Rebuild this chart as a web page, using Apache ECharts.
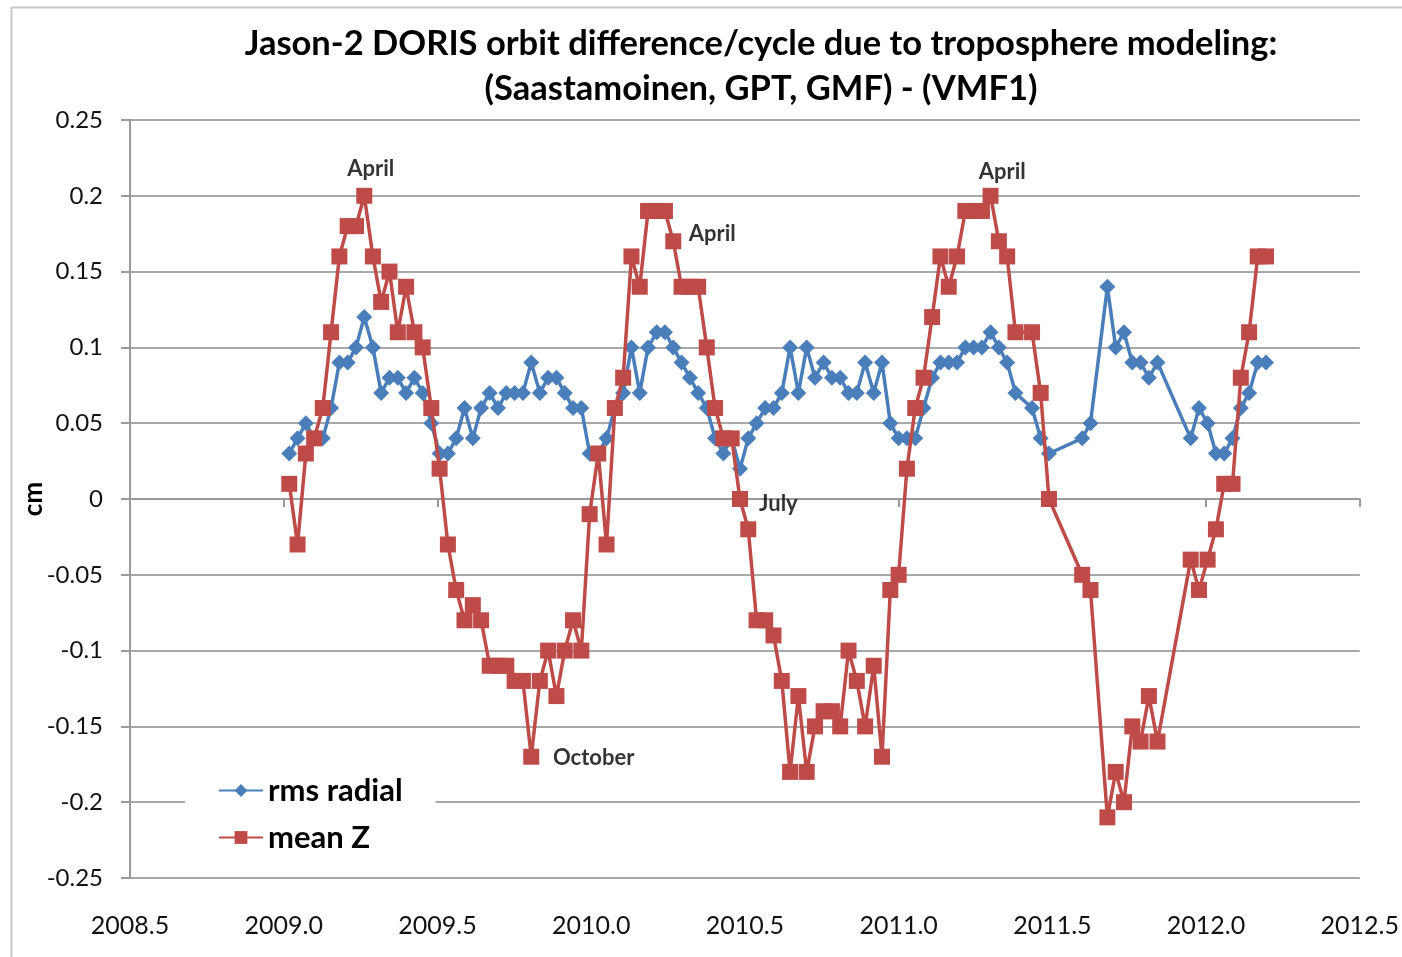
<!DOCTYPE html>
<html>
<head>
<meta charset="utf-8">
<title>Jason-2 DORIS orbit difference</title>
<script src="https://cdn.jsdelivr.net/npm/echarts@6/dist/echarts.min.js"></script>
<style>
  html, body { margin: 0; padding: 0; background: #fff; }
  #main { width: 1402px; height: 957px; }
</style>
</head>
<body>
<div id="main"></div>
<script>
// decimal year of each Jason-2 cycle (some cycles missing)
var cycleYears = [
  2009.018, 2009.045, 2009.072, 2009.099, 2009.127, 2009.154, 2009.181, 2009.208, 2009.235, 2009.262,
  2009.290, 2009.317, 2009.344, 2009.371, 2009.398, 2009.425, 2009.452, 2009.480, 2009.507, 2009.534,
  2009.561, 2009.588, 2009.615, 2009.642, 2009.670, 2009.697, 2009.724, 2009.751, 2009.778, 2009.805,
  2009.833, 2009.860, 2009.887, 2009.914, 2009.941, 2009.968, 2009.995, 2010.023, 2010.050, 2010.077,
  2010.104, 2010.131, 2010.158, 2010.185, 2010.213, 2010.240, 2010.267, 2010.294, 2010.321, 2010.348,
  2010.376, 2010.403, 2010.430, 2010.457, 2010.484, 2010.511, 2010.538, 2010.566, 2010.593, 2010.620,
  2010.647, 2010.674, 2010.701, 2010.728, 2010.756, 2010.783, 2010.810, 2010.837, 2010.864, 2010.891,
  2010.919, 2010.946, 2010.973, 2011.000, 2011.027, 2011.054, 2011.081, 2011.109, 2011.136, 2011.163,
  2011.190, 2011.217, 2011.244, 2011.271, 2011.299, 2011.326, 2011.353, 2011.380,
  2011.434, 2011.462, 2011.489,
  2011.597, 2011.624,
  2011.679, 2011.706, 2011.733, 2011.760, 2011.787, 2011.814, 2011.842,
  2011.950, 2011.977, 2012.005, 2012.032, 2012.059, 2012.086, 2012.113, 2012.140, 2012.168, 2012.195
];

var rmsRadial = [
  0.03, 0.04, 0.05, 0.04, 0.04, 0.06, 0.09, 0.09, 0.10, 0.12,
  0.10, 0.07, 0.08, 0.08, 0.07, 0.08, 0.07, 0.05, 0.03, 0.03,
  0.04, 0.06, 0.04, 0.06, 0.07, 0.06, 0.07, 0.07, 0.07, 0.09,
  0.07, 0.08, 0.08, 0.07, 0.06, 0.06, 0.03, 0.03, 0.04, 0.06,
  0.07, 0.10, 0.07, 0.10, 0.11, 0.11, 0.10, 0.09, 0.08, 0.07,
  0.06, 0.04, 0.03, 0.04, 0.02, 0.04, 0.05, 0.06, 0.06, 0.07,
  0.10, 0.07, 0.10, 0.08, 0.09, 0.08, 0.08, 0.07, 0.07, 0.09,
  0.07, 0.09, 0.05, 0.04, 0.04, 0.04, 0.06, 0.08, 0.09, 0.09,
  0.09, 0.10, 0.10, 0.10, 0.11, 0.10, 0.09, 0.07,
  0.06, 0.04, 0.03,
  0.04, 0.05,
  0.14, 0.10, 0.11, 0.09, 0.09, 0.08, 0.09,
  0.04, 0.06, 0.05, 0.03, 0.03, 0.04, 0.06, 0.07, 0.09, 0.09
];

var meanZ = [
  0.01, -0.03, 0.03, 0.04, 0.06, 0.11, 0.16, 0.18, 0.18, 0.20,
  0.16, 0.13, 0.15, 0.11, 0.14, 0.11, 0.10, 0.06, 0.02, -0.03,
  -0.06, -0.08, -0.07, -0.08, -0.11, -0.11, -0.11, -0.12, -0.12, -0.17,
  -0.12, -0.10, -0.13, -0.10, -0.08, -0.10, -0.01, 0.03, -0.03, 0.06,
  0.08, 0.16, 0.14, 0.19, 0.19, 0.19, 0.17, 0.14, 0.14, 0.14,
  0.10, 0.06, 0.04, 0.04, 0.00, -0.02, -0.08, -0.08, -0.09, -0.12,
  -0.18, -0.13, -0.18, -0.15, -0.14, -0.14, -0.15, -0.10, -0.12, -0.15,
  -0.11, -0.17, -0.06, -0.05, 0.02, 0.06, 0.08, 0.12, 0.16, 0.14,
  0.16, 0.19, 0.19, 0.19, 0.20, 0.17, 0.16, 0.11,
  0.11, 0.07, 0.00,
  -0.05, -0.06,
  -0.21, -0.18, -0.20, -0.15, -0.16, -0.13, -0.16,
  -0.04, -0.06, -0.04, -0.02, 0.01, 0.01, 0.08, 0.11, 0.16, 0.16
];

// month notes written on the plot
var noteText = ['April', 'April', 'April', 'July', 'October'];
var noteYears = [2009.283, 2010.394, 2011.337, 2010.609, 2010.008];
var noteValues = [0.2175, 0.175, 0.216, -0.003, -0.171];

var FONT = 'Lato, "Open Sans", sans-serif';

function pairs(xs, ys) {
  return xs.map(function (x, i) { return [x, ys[i]]; });
}

var chart = echarts.init(document.getElementById('main'));

var option = {
  backgroundColor: '#fff',
  animation: false,
  textStyle: { fontFamily: FONT },
  title: {
    text: 'Jason-2 DORIS orbit difference/cycle due to troposphere modeling:\n(Saastamoinen, GPT, GMF) - (VMF1)',
    left: 756,
    top: 16,
    textAlign: 'center',
    textStyle: {
      fontFamily: FONT,
      fontSize: 34.5,
      fontWeight: 'bold',
      color: '#000',
      lineHeight: 45
    }
  },
  graphic: [{
    type: 'rect',
    left: 9,
    top: 5,
    shape: { width: 1500, height: 1000 },
    style: { fill: 'none', stroke: '#c8c8c8', lineWidth: 2 },
    silent: true
  }],
  legend: {
    data: ['rms radial', 'mean Z'],
    orient: 'vertical',
    left: 185,
    top: 771,
    backgroundColor: '#fff',
    padding: [4, 33, 4, 33],
    itemWidth: 44,
    itemHeight: 16,
    itemGap: 16,
    textStyle: { fontFamily: FONT, fontSize: 31, fontWeight: 'bold', color: '#000' }
  },
  grid: { left: 130, right: 41, top: 120, bottom: 79 },
  xAxis: {
    type: 'value',
    min: 2008.5,
    max: 2012.5,
    interval: 0.5,
    axisLine: { lineStyle: { color: '#9a9a9a', width: 2 } },
    axisTick: { show: true, length: 8, lineStyle: { color: '#9a9a9a', width: 2 } },
    axisLabel: {
      margin: 35,
      fontSize: 25,
      color: '#111',
      formatter: function (v) { return v.toFixed(1); }
    },
    splitLine: { show: false }
  },
  yAxis: {
    type: 'value',
    min: -0.25,
    max: 0.25,
    interval: 0.05,
    name: 'cm',
    nameLocation: 'middle',
    nameRotate: 90,
    nameGap: 83,
    nameMoveOverlap: false,
    nameTextStyle: { fontSize: 26, fontWeight: 'bold', color: '#000' },
    axisLine: { show: true, lineStyle: { color: '#9a9a9a', width: 2 } },
    axisTick: { show: true, length: 9, lineStyle: { color: '#9a9a9a', width: 2 } },
    axisLabel: {
      margin: 27,
      fontSize: 24,
      color: '#111',
      formatter: function (v) { return String(+v.toFixed(2)); }
    },
    splitLine: { show: true, lineStyle: { color: '#a8a8a8', width: 2 } }
  },
  series: [
    {
      name: 'rms radial',
      type: 'line',
      data: pairs(cycleYears, rmsRadial),
      symbol: 'diamond',
      symbolSize: 16,
      lineStyle: { color: '#4A7EBB', width: 3.5 },
      itemStyle: { color: '#4A7EBB' },
      z: 3
    },
    {
      name: 'mean Z',
      type: 'line',
      data: pairs(cycleYears, meanZ),
      symbol: 'rect',
      symbolSize: 16,
      lineStyle: { color: '#BE4B48', width: 3.5 },
      itemStyle: { color: '#BE4B48' },
      z: 4
    },
    {
      name: 'notes',
      type: 'scatter',
      symbolSize: 0,
      silent: true,
      data: noteYears.map(function (x, i) { return [x, noteValues[i], noteText[i]]; }),
      label: {
        show: true,
        position: 'inside',
        formatter: function (p) { return p.value[2]; },
        fontFamily: FONT,
        fontSize: 22,
        fontWeight: 'bold',
        color: '#000'
      },
      z: 5
    }
  ]
};

chart.setOption(option);
</script>
</body>
</html>
